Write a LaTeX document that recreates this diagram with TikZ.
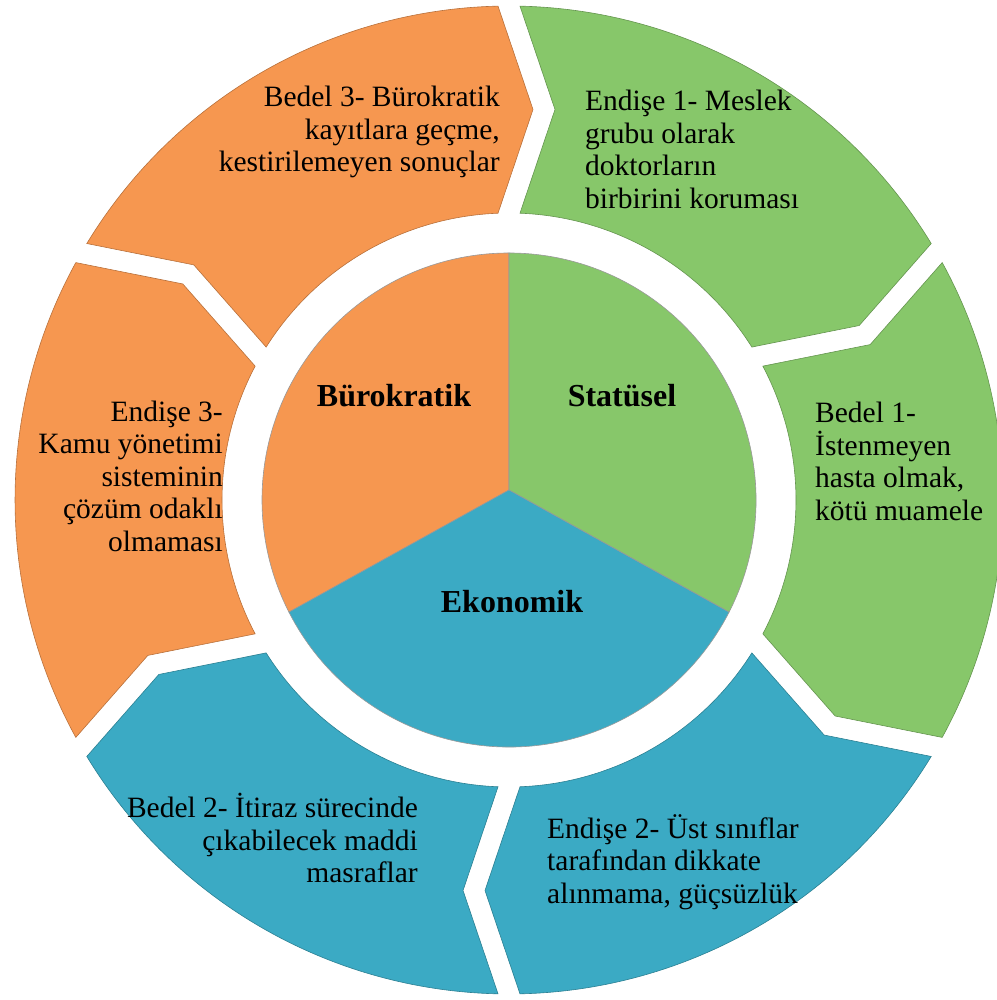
\documentclass[tikz,border=0pt]{standalone}
\usepackage{fontspec}
\setmainfont{Liberation Serif}
\usetikzlibrary{calc}
\definecolor{cOrange}{HTML}{F69750}
\definecolor{cGreen}{HTML}{87C76A}
\definecolor{cBlue}{HTML}{3BAAC4}
% ring geometry (1pt = 1px of the reference)
\def\Ro{494pt}
\def\Ri{287pt}
\def\Rm{390.5pt}
\def\ao{1.276}
\def\ai{2.197}
\newcommand{\ringseg}[2]{% #1 = tail gap angle, #2 = colour
  \pgfmathsetmacro\gA{#1}%
  \pgfmathsetmacro\gB{#1-60}%
  \path[ringpart=#2]
    ($(C)+(\gA-\ao:\Ro)$) arc[start angle=\gA-\ao, end angle=\gB+\ao, radius=\Ro]
    -- ($(C)+(\gB:\Rm)+(\gB-90:24pt)$)
    -- ($(C)+(\gB+\ai:\Ri)$) arc[start angle=\gB+\ai, end angle=\gA-\ai, radius=\Ri]
    -- ($(C)+(\gA:\Rm)+(\gA-90:46pt)$) -- cycle;
}
\begin{document}
\begin{tikzpicture}[x=1pt,y=1pt,
  ringpart/.style={fill=#1, draw=#1!75!black, line width=0.6pt},
  corepart/.style={fill=#1, draw=black!40, line width=0.6pt},
  seglabel/.style={font=\fontsize{29.5}{32.5}\selectfont, inner sep=0pt},
  corelabel/.style={font=\fontsize{32}{36}\selectfont\bfseries, inner sep=0pt}]
\useasboundingbox (0,0) rectangle (996,1000);
\coordinate (C) at (509,500);
\coordinate (M) at (509,510);

% outer ring
\ringseg{90}{cGreen}
\ringseg{30}{cGreen}
\ringseg{-30}{cBlue}
\ringseg{-90}{cBlue}
\ringseg{-150}{cOrange}
\ringseg{150}{cOrange}

% inner pie
\path[corepart=cOrange] (M) -- ($(C)+(90:247pt)$) arc[start angle=90, end angle=207, radius=247pt] -- cycle;
\path[corepart=cGreen] (M) -- ($(C)+(-27:247pt)$) arc[start angle=-27, end angle=90, radius=247pt] -- cycle;
\path[corepart=cBlue] (M) -- ($(C)+(207:247pt)$) arc[start angle=207, end angle=333, radius=247pt] -- cycle;

% core labels
\node[corelabel] (bur) at (394,604) {Bürokratik};
\node[corelabel] (sta) at (622,604) {Statüsel};
\node[corelabel] (eko) at (512,398) {Ekonomik};

% ring labels
\node[seglabel, align=right, anchor=east] (b3) at (500,868) {Bedel 3- Bürokratik\\kayıtlara geçme,\\kestirilemeyen sonuçlar};
\node[seglabel, align=left, anchor=west] (e1) at (585,850.5) {Endişe 1- Meslek\\grubu olarak\\doktorların\\birbirini koruması};
\node[seglabel, align=left, anchor=west] (b1) at (815,538.5) {Bedel 1-\\İstenmeyen\\hasta olmak,\\kötü muamele};
\node[seglabel, align=right, anchor=east] (e3) at (223,524) {Endişe 3-\\Kamu yönetimi\\sisteminin\\çözüm odaklı\\olmaması};
\node[seglabel, align=right, anchor=east] (b2) at (418,162) {Bedel 2- İtiraz sürecinde\\çıkabilecek maddi\\masraflar};
\node[seglabel, align=left, anchor=west] (e2) at (547,138) {Endişe 2- Üst sınıflar\\tarafından dikkate\\alınmama, güçsüzlük};
\end{tikzpicture}
\end{document}
